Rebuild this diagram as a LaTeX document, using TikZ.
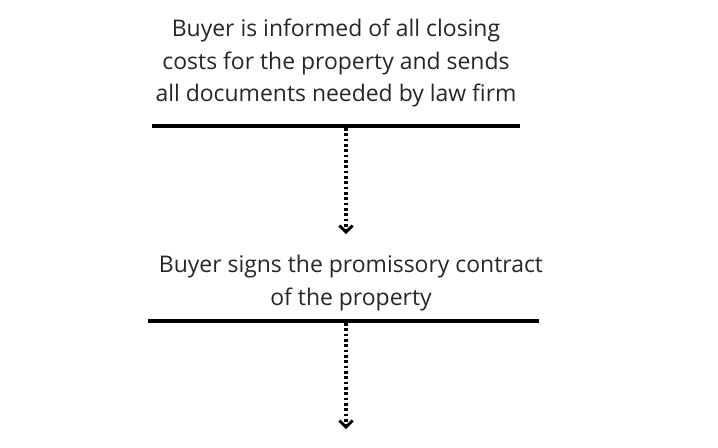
\documentclass[tikz,border=0pt]{standalone}
\usepackage{fontspec}
\setmainfont{Open Sans}
\usetikzlibrary{arrows.meta}
\begin{document}
\begin{tikzpicture}[x=0.75pt,y=-0.75pt,
  lbl/.style={align=center,font=\fontsize{17.2pt}{24.5pt}\selectfont,inner sep=0pt,text=black!85},
  bar/.style={line width=2.4pt},
  flow/.style={line width=2.6pt,dash pattern=on 2pt off 2pt,-{Straight Barb[length=5pt,width=10pt,line width=2pt]}}]
\useasboundingbox (0,0) rectangle (718,447);
\node[lbl] (t1) at (336,63) {Buyer is informed of all closing\\costs for the property and sends\\all documents needed by law firm};
\draw[bar] (152,126) coordinate (a1) -- (520,126) coordinate (a2);
\coordinate (s1) at (346,128);
\coordinate (e1) at (346,234);
\draw[flow] (s1) -- (e1);
\node[lbl] (t2) at (351,283) {Buyer signs the promissory contract\\of the property};
\draw[bar] (148,321) coordinate (b1) -- (539,321) coordinate (b2);
\coordinate (s2) at (346,323);
\coordinate (e2) at (346,429);
\draw[flow] (s2) -- (e2);
\end{tikzpicture}
\end{document}
